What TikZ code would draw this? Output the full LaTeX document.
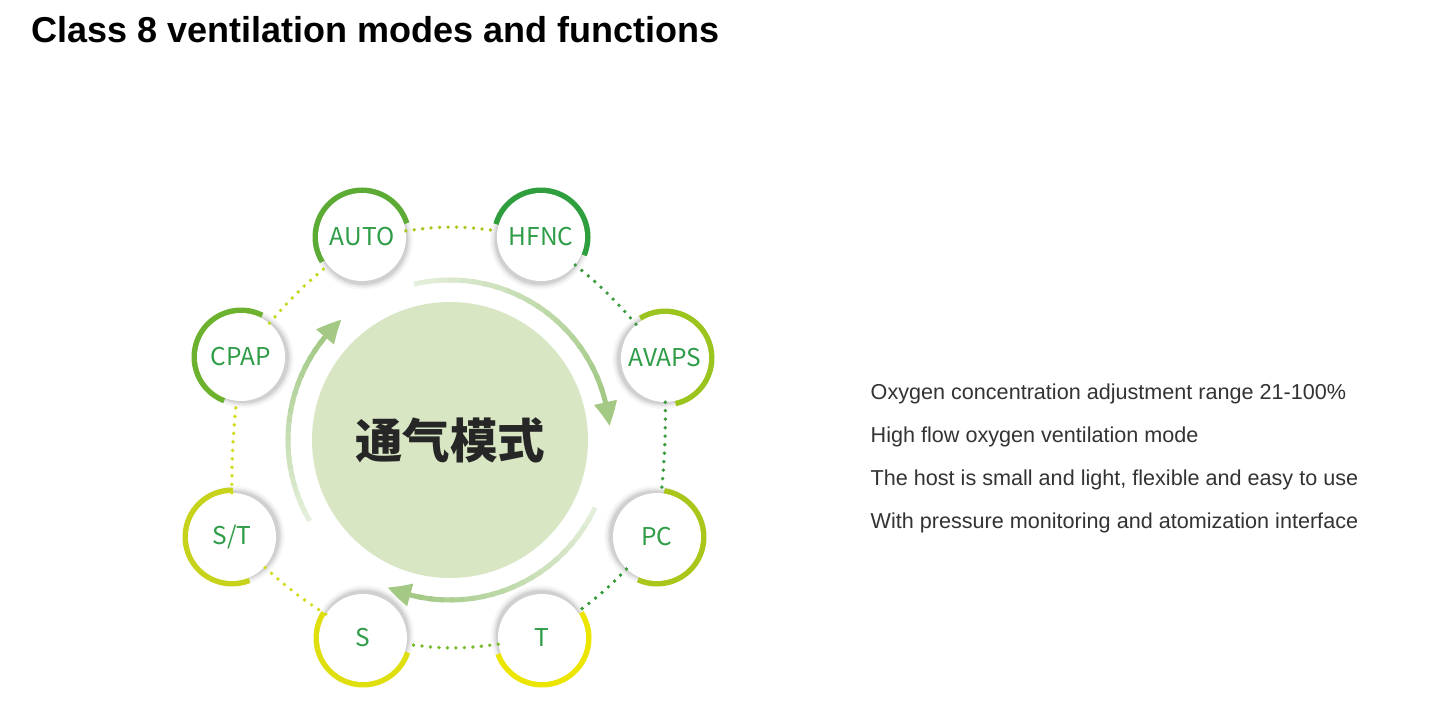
\documentclass[tikz,border=0pt]{standalone}
\usepackage{fontspec}
\setmainfont{Liberation Sans}
\newfontfamily\cjk{Noto Sans CJK SC}
\usetikzlibrary{arrows.meta,bending,calc}
\definecolor{labelgreen}{HTML}{2F9D48}
\definecolor{arrowgreen}{HTML}{A3C985}
\definecolor{centerfill}{HTML}{D8E6C3}
\definecolor{cAUTO}{HTML}{5BAB35}
\definecolor{cHFNC}{HTML}{2F9E3F}
\definecolor{cAVAPS}{HTML}{9BC41E}
\definecolor{cPC}{HTML}{A9C61A}
\definecolor{cT}{HTML}{EBE500}
\definecolor{cS}{HTML}{DFDF10}
\definecolor{cST}{HTML}{C6D31A}
\definecolor{cCPAP}{HTML}{6DB22E}
\definecolor{dYG}{HTML}{A7C81F}
\definecolor{dG}{HTML}{3A9C3C}
\definecolor{dMG}{HTML}{7BBB2E}
\definecolor{dY}{HTML}{D2DC1E}
\definecolor{dLY}{HTML}{C4D81E}
\definecolor{textgray}{HTML}{333333}

\newcommand\modenode[6]{%
  \coordinate (#1-c) at #2;
  \foreach \rr/\oo in {50/0.03,48/0.04,46.5/0.05,45/0.07}{%
    \fill[black,opacity=\oo] ($(#1-c)!3pt!(O)$) circle[radius=\rr];}
  \draw[ring,draw=#5] (#1-c) ++(#3:46.5) arc[start angle=#3,end angle=#4,radius=46.5];
  \node[mode] (#1) at (#1-c) {#6};
}
\newcommand\bigarrow[3]{%
  \foreach \i in {0,...,19}{%
    \pgfmathsetmacro\aa{#1+(#2-#1)*0.85*\i/20}%
    \pgfmathsetmacro\bb{#1+(#2-#1)*0.85*(\i+1.4)/20}%
    \pgfmathtruncatemacro\pc{30+70*\i/20}%
    \draw[line width=5,arrowgreen!\pc] (O) ++(\aa:#3) arc[start angle=\aa,end angle=\bb,radius=#3];}
  \pgfmathsetmacro\cc{#1+(#2-#1)*0.85}%
  \draw[line width=5,arrowgreen,-{Triangle[width=22pt,length=24pt,bend]}] (O) ++(\cc:#3) arc[start angle=\cc,end angle=#2,radius=#3];
}

\begin{document}
\begin{tikzpicture}[x=1pt,y=1pt,
  ring/.style={line width=6},
  mode/.style={circle,fill=white,minimum size=88,inner sep=0,text=labelgreen,font=\cjk\fontsize{24.5}{28}\selectfont},
  dots/.style={line width=3.8,line cap=round,dash pattern=on 0pt off 8.5pt},
  feature/.style={anchor=base west,inner sep=0,text=textgray,font=\fontsize{21.6}{25}\selectfont}]
\fill[white] (0,0) rectangle (1437,-714);
\useasboundingbox (0,0) rectangle (1437,-714);

\node[anchor=base west,inner sep=0,font=\fontsize{36}{40}\selectfont\bfseries] (title) at (31,-43) {Class 8 ventilation modes and functions};

\coordinate (O) at (450,-440);
\node[circle,fill=centerfill,minimum size=276,inner sep=0,text=black!85,font=\cjk\bfseries\fontsize{47.5}{50}\selectfont] (center) at (O) {通气模式};

\bigarrow{103}{5}{160}
\bigarrow{-25}{-113}{160}
\bigarrow{210}{132}{162}

% positions of the mode circles
\coordinate (p-auto) at (362,-237);
\coordinate (p-hfnc) at (541,-237);
\coordinate (p-avaps) at (665,-358);
\coordinate (p-pc) at (657,-537);
\coordinate (p-t) at (542,-638);
\coordinate (p-s) at (363,-638);
\coordinate (p-st) at (232,-537);
\coordinate (p-cpap) at (241,-357);

\modenode{auto}{(p-auto)}{17}{212}{cAUTO}{AUTO}
\modenode{hfnc}{(p-hfnc)}{-23}{164}{cHFNC}{HFNC}
\modenode{avaps}{(p-avaps)}{-77}{122}{cAVAPS}{AVAPS}
\modenode{pc}{(p-pc)}{-114}{81}{cPC}{PC}
\modenode{t}{(p-t)}{200}{393}{cT}{T}
\modenode{s}{(p-s)}{147}{342}{cS}{S}
\modenode{st}{(p-st)}{89}{292}{cST}{S/T}
\modenode{cpap}{(p-cpap)}{63}{249}{cCPAP}{CPAP}

\draw[dots,dYG] (auto) to[bend left=8] (hfnc);
\draw[dots,dG] (hfnc) to[bend left=5] (avaps);
\draw[dots,dG] (avaps) to[bend left=3] (pc);
\draw[dots,dG] (pc) to[bend left=5] (t);
\draw[dots,dMG] (t) to[bend left=8] (s);
\draw[dots,dY] (s) to[bend left=5] (st);
\draw[dots,dY] (st) to[bend left=3] (cpap);
\draw[dots,dLY] (cpap) to[bend left=5] (auto);

\node[feature] (f1) at (870.5,-399) {Oxygen concentration adjustment range 21-100\%};
\node[feature] (f2) at (870.5,-442) {High flow oxygen ventilation mode};
\node[feature] (f3) at (870.5,-485) {The host is small and light, flexible and easy to use};
\node[feature] (f4) at (870.5,-528) {With pressure monitoring and atomization interface};
\end{tikzpicture}
\end{document}
